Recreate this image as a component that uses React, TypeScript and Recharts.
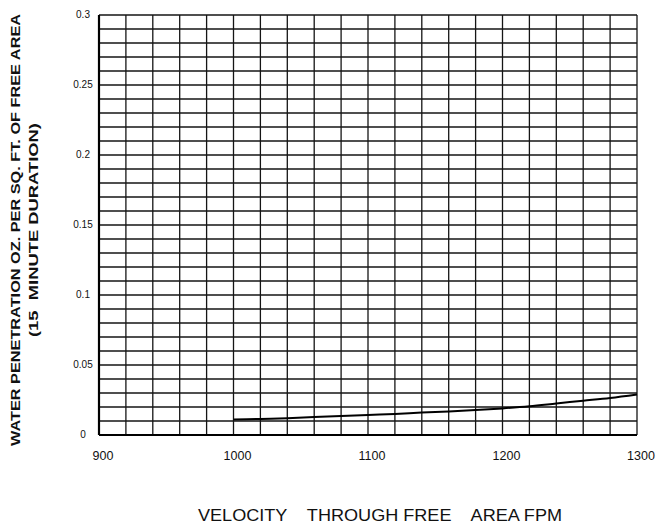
import { LineChart, Line, XAxis, YAxis, CartesianGrid } from "recharts";

// Velocity through free area (FPM) and measured water penetration
const velocity = [
	1000, 1020, 1040, 1060, 1080, 1100, 1120, 1140, 1160, 1180, 1200, 1220,
	1240, 1260, 1280, 1300,
];
const penetration = [
	0.011, 0.0115, 0.012, 0.0128, 0.0135, 0.0143, 0.015, 0.016, 0.0168, 0.0178,
	0.019, 0.0205, 0.0225, 0.0245, 0.0265, 0.029,
];

// Graph-paper grid: every tick draws a line, only some get labels
const xGridTicks = [
	900, 920, 940, 960, 980, 1000, 1020, 1040, 1060, 1080, 1100, 1120, 1140,
	1160, 1180, 1200, 1220, 1240, 1260, 1280, 1300,
];
const xLabels = [900, 1000, 1100, 1200, 1300];
const yGridTicks = [
	0, 0.01, 0.02, 0.03, 0.04, 0.05, 0.06, 0.07, 0.08, 0.09, 0.1, 0.11, 0.12,
	0.13, 0.14, 0.15, 0.16, 0.17, 0.18, 0.19, 0.2, 0.21, 0.22, 0.23, 0.24, 0.25,
	0.26, 0.27, 0.28, 0.29, 0.3,
];
const yLabels = ["0", "0.05", "0.1", "0.15", "0.2", "0.25", "0.3"];

const FONT = '"Liberation Sans", Arial, Helvetica, sans-serif';

const data = velocity.map((v, i) => ({ v, p: penetration[i] }));

const XTick = (props: { x?: number; y?: number; payload?: { value: number } }) => {
	const v = props.payload?.value ?? 0;
	if (!xLabels.includes(v)) return <g />;
	return (
		<text
			x={Number(props.x) + 4}
			y={Number(props.y) + 17}
			textAnchor="middle"
			fontSize={12.5}
			fontFamily={FONT}
			fill="#111"
		>
			{v}
		</text>
	);
};

const YTick = (props: { x?: number; y?: number; payload?: { value: number } }) => {
	const v = props.payload?.value ?? 0;
	const label = String(Math.round(v * 100) / 100);
	if (!yLabels.includes(label)) return <g />;
	return (
		<text
			x={83}
			y={Number(props.y) + 3}
			textAnchor="middle"
			fontSize={10}
			fontFamily={FONT}
			fill="#111"
		>
			{label}
		</text>
	);
};

const XTitle = () => (
	<text
		x={380}
		y={521}
		textAnchor="middle"
		fontSize={16}
		fontFamily={FONT}
		fill="#111"
		textLength={364}
		lengthAdjust="spacingAndGlyphs"
		xmlSpace="preserve"
		style={{ whiteSpace: "pre" }}
	>
		{"VELOCITY    THROUGH FREE    AREA FPM"}
	</text>
);

const YTitle = () => (
	<g fontFamily={FONT} fontWeight="bold" fill="#111">
		<text
			transform="translate(20, 230) rotate(-90)"
			textAnchor="middle"
			fontSize={13}
			textLength={432}
			lengthAdjust="spacingAndGlyphs"
		>
			WATER PENETRATION OZ. PER SQ. FT. OF FREE AREA
		</text>
		<text
			transform="translate(38, 230) rotate(-90)"
			textAnchor="middle"
			fontSize={13}
			textLength={214}
			lengthAdjust="spacingAndGlyphs"
			xmlSpace="preserve"
			style={{ whiteSpace: "pre" }}
		>
			{"(15  MINUTE DURATION)"}
		</text>
	</g>
);

export default function App() {
	return (
		<div style={{ position: "absolute", left: 0, top: 0, background: "#fff" }}>
			<LineChart
				width={663}
				height={524}
				data={data}
				margin={{ top: 15, right: 26, left: 0, bottom: 0 }}
			>
				<CartesianGrid stroke="#151515" strokeWidth={1.3} />
				<XAxis
					dataKey="v"
					type="number"
					domain={[900, 1300]}
					ticks={xGridTicks}
					interval={0}
					height={89}
					tick={<XTick />}
					tickLine={false}
					axisLine={{ stroke: "#000", strokeWidth: 2.2 }}
					label={{ content: () => <XTitle /> }}
				/>
				<YAxis
					type="number"
					domain={[0, 0.3]}
					ticks={yGridTicks}
					interval={0}
					width={99}
					tick={<YTick />}
					tickLine={false}
					axisLine={{ stroke: "#000", strokeWidth: 2.2 }}
					label={{ content: () => <YTitle /> }}
				/>
				<YAxis
					yAxisId="right"
					orientation="right"
					width={0}
					tick={false}
					tickLine={false}
					axisLine={{ stroke: "#000", strokeWidth: 2.2 }}
				/>
				<Line
					dataKey="p"
					type="monotone"
					stroke="#000"
					strokeWidth={2}
					dot={false}
					isAnimationActive={false}
				/>
			</LineChart>
		</div>
	);
}
